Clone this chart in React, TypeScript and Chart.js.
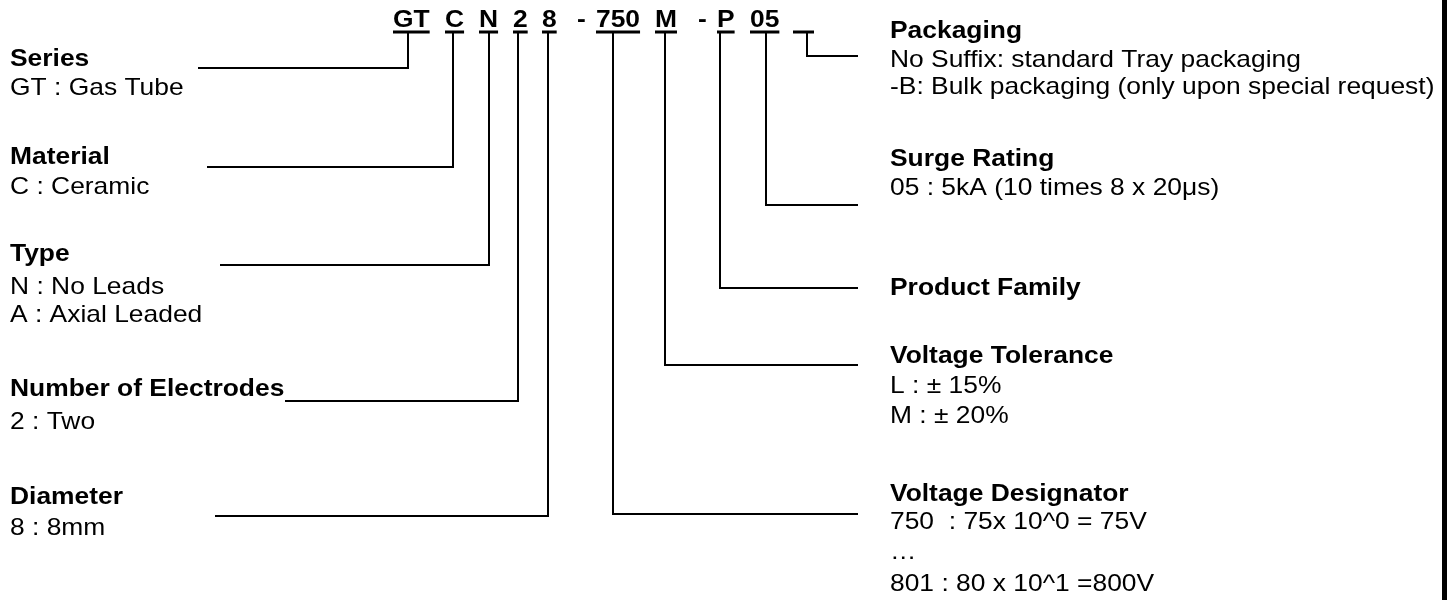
import React, { useEffect, useRef } from "react";
import { Chart, registerables } from "chart.js";

Chart.register(...registerables);

// ---- content ----
const codeSegments = ["GT", "C", "N", "2", "8", "-", "750", "M", "-", "P", "05", ""];
const codeUnderlined = [true, true, true, true, true, false, true, true, false, true, true, true];

const leftHeadings = ["Series", "Material", "Type", "Number of Electrodes", "Diameter"];
const leftDetails = [
  ["GT : Gas Tube"],
  ["C : Ceramic"],
  ["N : No Leads", "A : Axial Leaded"],
  ["2 : Two"],
  ["8 : 8mm"],
];
const rightHeadings = ["Packaging", "Surge Rating", "Product Family", "Voltage Tolerance", "Voltage Designator"];
const rightDetails = [
  ["No Suffix: standard Tray packaging", "-B: Bulk packaging (only upon special request)"],
  ["05 : 5kA (10 times 8 x 20\u03bcs)"],
  [],
  ["L : \u00b1 15%", "M : \u00b1 20%"],
  ["750  : 75x 10^0 = 75V", "\u2026", "801 : 80 x 10^1 =800V"],
];

// ---- layout (diagram coordinates on a 1453 x 600 grid) ----
const codeX = [393, 445, 479, 513, 542, 577, 596, 655, 698, 717, 750, 793];
const blankWidth = 21;
const codeBaseline = 27;
const underlineY = 32;

const leftAnchorX = [408, 453, 489, 518, 548];
const leftLineY = [68, 167, 265, 401, 516];
const leftLineStartX = [198, 207, 220, 285, 215];
const leftHeadBase = [66, 164, 261, 396, 504];
const leftDetailBase = [[95], [194], [294, 322], [429], [535]];

const rightAnchorX = [807, 766, 720, 665, 613];
const rightLineY = [56, 205, 288, 365, 514];
const rightLineEndX = 858;
const rightHeadBase = [38, 166, 295, 363, 501];
const rightDetailBase = [[67, 94], [195], [], [393, 423], [529, 559, 591]];

const leftTextX = 10;
const rightTextX = 890;
const FONT = '"Liberation Sans", Arial, sans-serif';
const FS = 24;
const XS = 1.1;

function buildDatasets() {
  const ds: any[] = [];
  const line = (pts: { x: number; y: number }[], w = 2) => ({
    data: pts,
    showLine: true,
    borderColor: "#000",
    borderWidth: w,
    pointRadius: 0,
    fill: false,
    tension: 0,
  });
  leftAnchorX.forEach((ax, i) => {
    ds.push(line([
      { x: ax, y: underlineY },
      { x: ax, y: leftLineY[i] },
      { x: leftLineStartX[i], y: leftLineY[i] },
    ]));
  });
  rightAnchorX.forEach((ax, i) => {
    ds.push(line([
      { x: ax, y: underlineY },
      { x: ax, y: rightLineY[i] },
      { x: rightLineEndX, y: rightLineY[i] },
    ]));
  });
  // right frame edge
  ds.push(line([{ x: 1444.5, y: 0 }, { x: 1444.5, y: 600 }], 5));
  return ds;
}

const textPlugin = {
  id: "diagramText",
  afterDatasetsDraw(chart: any) {
    const ctx = chart.ctx as CanvasRenderingContext2D;
    const xs = chart.scales.x;
    const ys = chart.scales.y;
    const put = (t: string, x: number, y: number, bold: boolean) => {
      ctx.save();
      ctx.font = `${bold ? "bold " : ""}${FS}px ${FONT}`;
      ctx.fillStyle = "#000";
      ctx.textBaseline = "alphabetic";
      ctx.textAlign = "left";
      ctx.translate(xs.getPixelForValue(x), ys.getPixelForValue(y));
      ctx.scale(XS, 1);
      ctx.fillText(t, 0, 0);
      const w = ctx.measureText(t).width * XS;
      ctx.restore();
      return w;
    };
    codeSegments.forEach((s, i) => {
      const w = s ? put(s, codeX[i], codeBaseline, true) : blankWidth;
      if (codeUnderlined[i]) {
        ctx.save();
        ctx.fillStyle = "#000";
        const x0 = xs.getPixelForValue(codeX[i]);
        const x1 = xs.getPixelForValue(codeX[i] + w);
        const y0 = ys.getPixelForValue(underlineY);
        ctx.fillRect(x0, y0 - 1.5, x1 - x0, 3);
        ctx.restore();
      }
    });
    leftHeadings.forEach((h, i) => {
      put(h, leftTextX, leftHeadBase[i], true);
      leftDetails[i].forEach((d, j) => put(d, leftTextX, leftDetailBase[i][j], false));
    });
    rightHeadings.forEach((h, i) => {
      put(h, rightTextX, rightHeadBase[i], true);
      rightDetails[i].forEach((d, j) => put(d, rightTextX, rightDetailBase[i][j], false));
    });
  },
};

export default function App() {
  const ref = useRef<HTMLCanvasElement | null>(null);
  useEffect(() => {
    if (!ref.current) return;
    const chart = new Chart(ref.current, {
      type: "scatter",
      data: { datasets: buildDatasets() },
      options: {
        animation: false,
        responsive: false,
        devicePixelRatio: 1,
        layout: { padding: 0 },
        plugins: { legend: { display: false }, tooltip: { enabled: false } },
        scales: {
          x: { type: "linear", min: 0, max: 1453, display: false },
          y: { type: "linear", min: 0, max: 600, reverse: true, display: false },
        },
      },
      plugins: [textPlugin],
    });
    return () => chart.destroy();
  }, []);
  return (
    <div style={{ position: "absolute", left: 0, top: 0, width: 1453, height: 600, background: "#fff" }}>
      <canvas ref={ref} width={1453} height={600} />
    </div>
  );
}
